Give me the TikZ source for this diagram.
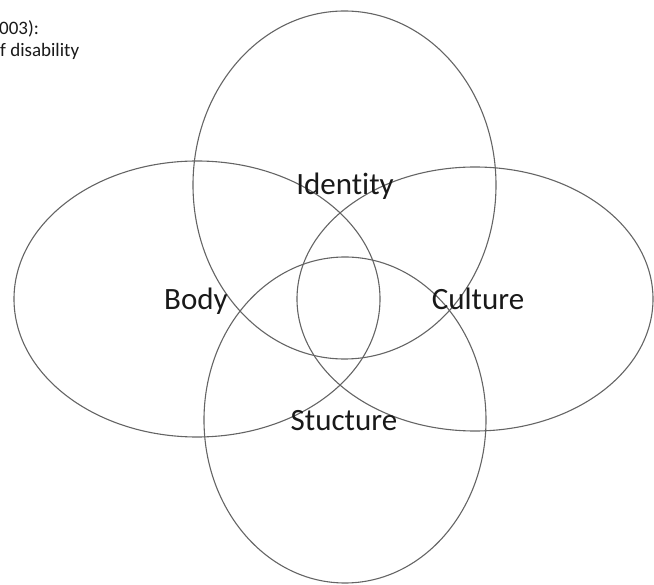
\documentclass[tikz,border=0pt]{standalone}
\usepackage{fontspec}
\setmainfont{Carlito}[Ligatures={NoCommon}]
\usetikzlibrary{shapes.geometric}
\definecolor{ringgray}{RGB}{100,100,100}
\definecolor{txtgray}{RGB}{25,25,25}
\tikzset{
  ring/.style={ellipse, draw=ringgray, line width=1.1pt, inner sep=0pt, outer sep=0pt},
  biglabel/.style={anchor=base, inner sep=0pt, text=txtgray, font=\fontsize{31}{36}\selectfont},
  notelabel/.style={anchor=base west, inner sep=0pt, text=txtgray, font=\fontsize{19}{22}\selectfont}
}
\begin{document}
\begin{tikzpicture}[x=1pt,y=-1pt]
\useasboundingbox (0,0) rectangle (654,585);
\node[ring, minimum width=303pt, minimum height=348pt] (identity) at (344.5,185) {};
\node[ring, minimum width=366pt, minimum height=276pt] (body) at (197,299) {};
\node[ring, minimum width=356pt, minimum height=264pt] (culture) at (475,299) {};
\node[ring, minimum width=282pt, minimum height=326pt] (structure) at (345,420) {};
\node[biglabel] (lid) at (345,195) {Identity};
\node[biglabel] (lbody) at (196,310) {Body};
\node[biglabel] (lcult) at (478,310) {Culture};
\node[biglabel] (lstruct) at (344,431) {Stucture};
\node[notelabel] (n1) at (-1,35) {003):};
\node[notelabel] (n2) at (0,57) {f disability};
\end{tikzpicture}
\end{document}
